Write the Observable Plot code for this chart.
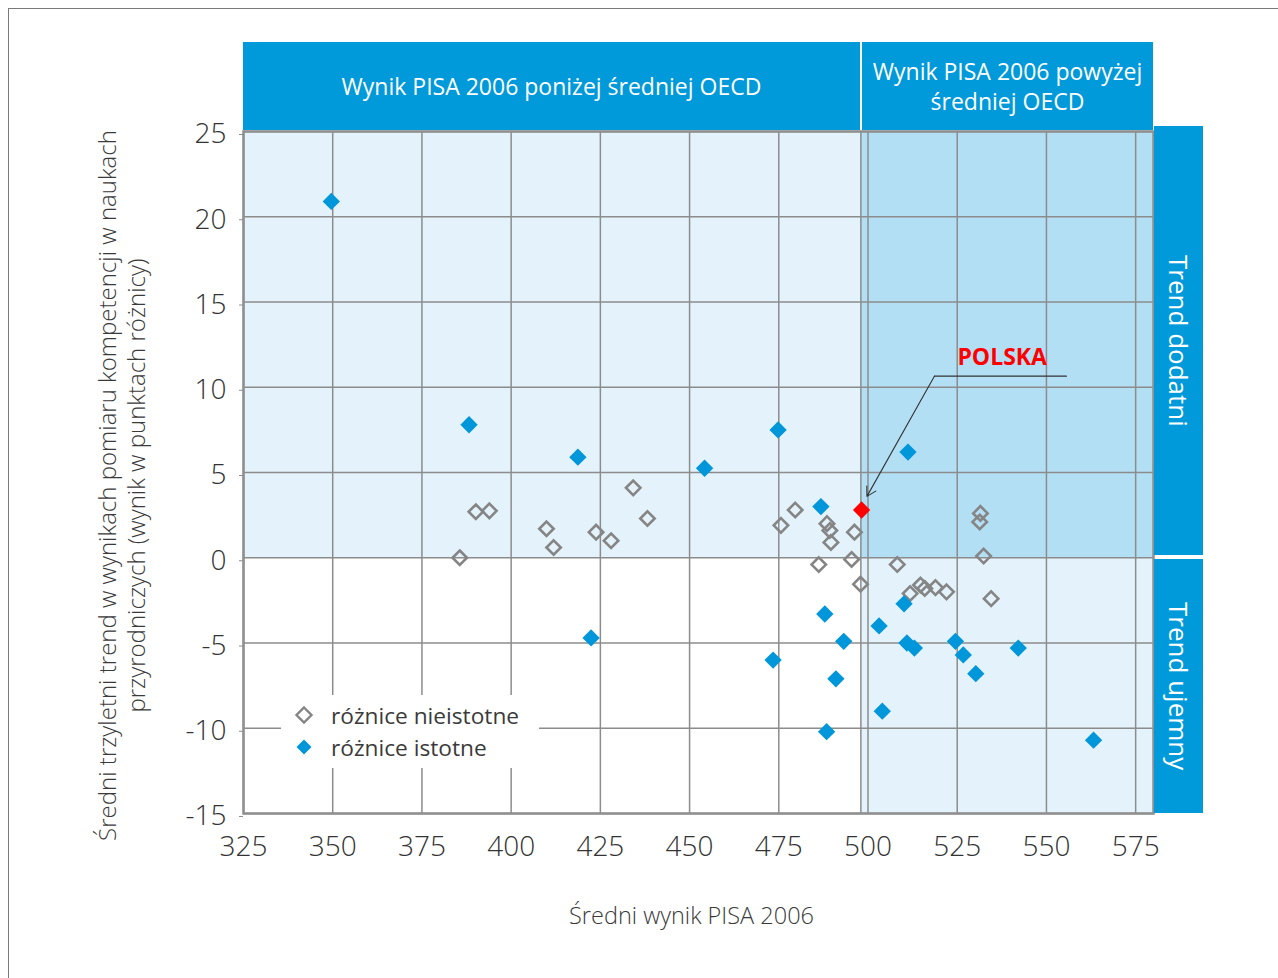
<!DOCTYPE html>
<html>
<head>
<meta charset="utf-8">
<script src="https://cdn.jsdelivr.net/npm/d3@7"></script>
<script src="https://cdn.jsdelivr.net/npm/@observablehq/plot@0.6"></script>
<style>
  html, body { margin: 0; padding: 0; background: #fff; overflow: hidden; }
  #wrap { position: relative; width: 1278px; height: 978px; font-family: "Open Sans", "Noto Sans", sans-serif; }
  #wrap > svg { position: absolute; left: 0; top: 0; }
  .pageframe { position: absolute; left: 8px; top: 8px; width: 1400px; height: 1100px; border-left: 1px solid #7a7a7a; border-top: 1px solid #7a7a7a; }
  .hdr { position: absolute; background: #0099da; color: #fff; display: flex; align-items: center; justify-content: center; text-align: center; font-size: 23px; line-height: 30px; }
  .side { position: absolute; background: #0099da; color: #fff; display: flex; align-items: center; justify-content: center; writing-mode: vertical-rl; font-size: 26px; }
  .legend { position: absolute; background: #fff; font-size: 22.7px; color: #3a3a3a; }
  .legend .row { position: absolute; left: 0; display: flex; align-items: center; height: 30px; }
  .legend .row svg { display: block; }
</style>
</head>
<body>
<div id="wrap">
  <div class="pageframe"></div>
</div>
<script>
// ---- data ----
const xTicks = [325, 350, 375, 400, 425, 450, 475, 500, 525, 550, 575];
const yTicks = [-15, -10, -5, 0, 5, 10, 15, 20, 25];
const oecdMean = 498;

// significant differences (filled blue)
const sigX = [349.6, 388.2, 418.7, 454.2, 474.8, 511.2, 486.8, 422.4, 510.1, 487.9, 503.1, 493.2, 473.4, 510.9, 513.0, 524.5, 526.7, 542.1, 530.2, 491.0, 504.0, 488.4, 563.2];
const sigY = [20.9, 7.8, 5.9, 5.25, 7.5, 6.2, 3.0, -4.7, -2.7, -3.3, -4.0, -4.9, -6.0, -5.0, -5.3, -4.9, -5.7, -5.3, -6.8, -7.1, -9.0, -10.2, -10.7];

// non-significant differences (open grey)
const nsX = [385.6, 390.1, 393.9, 409.9, 411.9, 423.8, 428.0, 434.2, 438.2, 475.6, 479.6, 488.5, 489.3, 489.6, 496.2, 486.2, 495.4, 497.9, 508.2, 531.5, 531.3, 532.4, 511.8, 514.7, 515.9, 518.9, 522.0, 534.5];
const nsY = [0.0, 2.7, 2.75, 1.7, 0.6, 1.5, 1.0, 4.1, 2.3, 1.9, 2.8, 2.0, 1.6, 0.9, 1.5, -0.4, -0.1, -1.55, -0.4, 2.6, 2.1, 0.1, -2.1, -1.6, -1.8, -1.75, -2.0, -2.4];

// Poland
const polskaX = [498.2];
const polskaY = [2.8];
const polskaLabel = "POLSKA";
// annotation leader: label position, elbow and arrow tip (data units)
const leaderX = [555.6, 518.6];
const leaderY = [10.65, 10.65];
const arrowTip = [499.7, 3.6];
const labelPos = [537.6, 11.75];

const xLabel = "Średni wynik PISA 2006";
const yLabel = "Średni trzyletni trend w wynikach pomiaru kompetencji w naukach\nprzyrodniczych (wynik w punktach różnicy)";
const headLeft = "Wynik PISA 2006 poniżej średniej OECD";
const headRight = "Wynik PISA 2006 powyżej<br>średniej OECD";
const sideTop = "Trend dodatni";
const sideBottom = "Trend ujemny";
const legendItems = ["różnice nieistotne", "różnice istotne"];

// ---- build tables ----
const sig = sigX.map((x, i) => ({x, y: sigY[i]}));
const ns = nsX.map((x, i) => ({x, y: nsY[i]}));
const pol = polskaX.map((x, i) => ({x, y: polskaY[i]}));
const regions = [
  {x1: 325, x2: oecdMean, y1: 0, y2: 25, fill: "#e4f3fb"},
  {x1: oecdMean, x2: 580, y1: 0, y2: 25, fill: "#b3dff4"},
  {x1: oecdMean, x2: 580, y1: -15, y2: 0, fill: "#e4f3fb"}
];
const leader = leaderX.map((x, i) => ({x, y: leaderY[i]}));

const BLUE = "#0096da";
const GRID = "#8c8c8c";

const chart = Plot.plot({
  width: 1278,
  height: 978,
  marginLeft: 243,
  marginRight: 125,
  marginTop: 131,
  marginBottom: 165,
  style: {fontFamily: "'Open Sans', 'Noto Sans', sans-serif", background: "transparent", overflow: "visible"},
  x: {domain: [325, 580], ticks: xTicks, label: null},
  y: {domain: [-15, 25], ticks: yTicks, label: null},
  marks: [
    Plot.rect(regions, {x1: "x1", x2: "x2", y1: "y1", y2: "y2", fill: d => d.fill}),
    Plot.gridX(xTicks, {stroke: GRID, strokeOpacity: 1, strokeWidth: 1.5}),
    Plot.gridY(yTicks, {stroke: GRID, strokeOpacity: 1, strokeWidth: 1.5}),
    Plot.ruleX([oecdMean], {stroke: GRID, strokeWidth: 1.5}),
    Plot.frame({stroke: "#8f8f8f", strokeWidth: 2.5}),
    Plot.axisX({ticks: xTicks, tickSize: 0, tickPadding: 23, fontSize: 28, fontWeight: 300, fill: "#333", tickFormat: d => String(d)}),
    Plot.axisY({ticks: yTicks, tickSize: 4, tickPadding: 13, fontSize: 28, fontWeight: 300, fill: "#333", stroke: GRID, tickFormat: d => String(d), dy: 3}),
    Plot.text([yLabel], {frameAnchor: "left", textAnchor: "middle", lineAnchor: "middle", dx: -122, dy: 13, rotate: -90, fontSize: 24, lineHeight: 1.17, fill: "#3a3a3a", fontWeight: 300}),
    Plot.text([xLabel], {frameAnchor: "bottom", dy: 110, dx: -7, fontSize: 23.5, fill: "#3a3a3a", fontWeight: 300}),
    Plot.dot(ns, {x: "x", y: "y", symbol: "diamond2", r: 6.5, fill: "none", stroke: "#858585", strokeWidth: 2.6}),
    Plot.dot(sig, {x: "x", y: "y", symbol: "diamond2", r: 7.8, fill: BLUE, stroke: "none"}),
    Plot.dot(pol, {x: "x", y: "y", symbol: "diamond2", r: 7.8, fill: "#ff0000", stroke: "none"}),
    Plot.line(leader, {x: "x", y: "y", stroke: "#333", strokeWidth: 1.1}),
    Plot.arrow([{x1: leaderX[1], y1: leaderY[1], x2: arrowTip[0], y2: arrowTip[1]}], {x1: "x1", y1: "y1", x2: "x2", y2: "y2", stroke: "#333", strokeWidth: 1.1, headLength: 14}),
    Plot.text([polskaLabel], {x: () => labelPos[0], y: () => labelPos[1], fill: "#ff0000", fontWeight: "bold", fontSize: 23})
  ]
});
const wrap = document.getElementById("wrap");
wrap.appendChild(chart);

function addDiv(cls, html, l, t, w, h) {
  const d = document.createElement("div");
  d.className = cls;
  d.innerHTML = html;
  Object.assign(d.style, {left: l + "px", top: t + "px", width: w + "px", height: h + "px"});
  wrap.appendChild(d);
  return d;
}
addDiv("hdr", headLeft, 243, 42, 617, 88);
addDiv("hdr", headRight, 862, 42, 291, 88);
addDiv("side", sideTop, 1154, 126, 49, 429);
addDiv("side", sideBottom, 1154, 559, 49, 254);

const lg = addDiv("legend", "", 281, 695, 258, 73);
const sym = (filled) => `<svg width="20" height="20" viewBox="-10 -10 20 20" style="margin-right:17px"><path d="M0,-7.5L7.5,0L0,7.5L-7.5,0Z" fill="${filled ? BLUE : "none"}" stroke="${filled ? "none" : "#858585"}" stroke-width="2.4"/></svg>`;
legendItems.forEach((t, i) => {
  const r = document.createElement("div");
  r.className = "row";
  r.style.left = "13px";
  r.style.top = (5 + i * 32) + "px";
  r.innerHTML = sym(i === 1) + `<span>${t}</span>`;
  lg.appendChild(r);
});
</script>
</body>
</html>
